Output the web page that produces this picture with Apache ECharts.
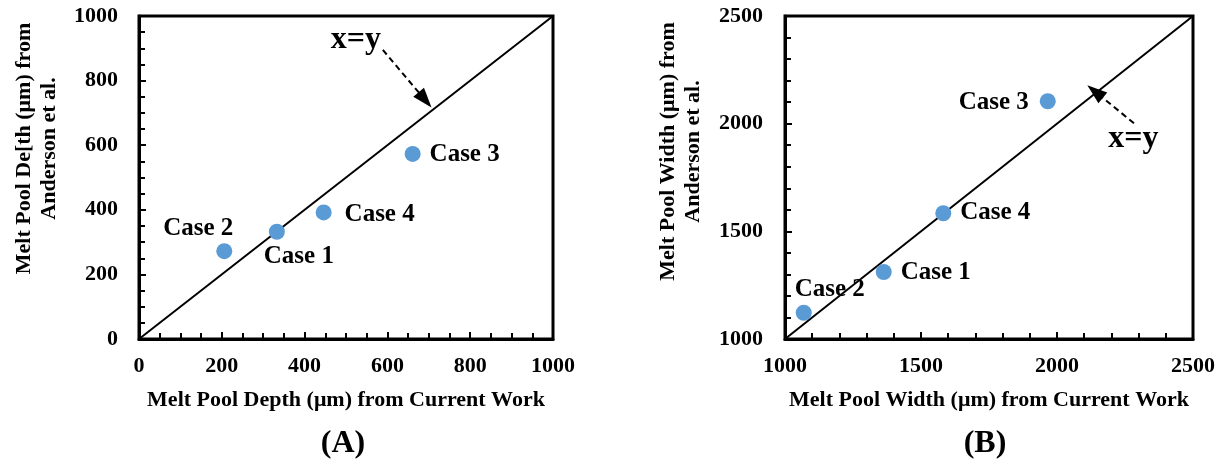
<!DOCTYPE html>
<html>
<head>
<meta charset="utf-8">
<script src="https://cdn.jsdelivr.net/npm/echarts@6/dist/echarts.min.js"></script>
<style>html,body{margin:0;padding:0;background:#fff}#c{width:1224px;height:463px}</style>
</head>
<body>
<div id="c"></div>
<script>
// Data
const caseNames = ['Case 1', 'Case 2', 'Case 3', 'Case 4'];
const depthCurrent = [333, 206, 661, 446];
const depthAnderson = [332, 272, 573, 392];
const widthCurrent = [1363, 1069, 1966, 1582];
const widthAnderson = [1311, 1122, 2104, 1584];
const depthTicks = [0, 200, 400, 600, 800, 1000];
const widthTicks = [1000, 1500, 2000, 2500];
const depthArrow = [[589, 895], [691, 740]];
const widthArrow = [[2283, 2002], [2140, 2149]];
const depthArrowText = [524, 926];
const widthArrowText = [2281, 1928];

const FONT = 'Liberation Serif';
const depthLabelOffsets = [[22, 25], [-26, -23], [52, 1], [56, 2]];
const widthLabelOffsets = [[52, 1], [26, -23], [-54, 1], [52, -1]];

function pts(xs, ys, offs) {
  return xs.map((x, i) => ({
    value: [x, ys[i]], name: caseNames[i],
    label: { offset: offs[i] }
  }));
}

function axisCommon(min, max, interval, split) {
  return {
    type: 'value', min: min, max: max, interval: interval,
    axisLine: { show: true, lineStyle: { color: '#000', width: 3 } },
    axisTick: { show: true, inside: true, length: 7, lineStyle: { color: '#000', width: 2 } },
    minorTick: { show: true, splitNumber: split, length: 6, lineStyle: { color: '#000', width: 2 } },
    splitLine: { show: false },
    nameTextStyle: { color: '#000', fontFamily: FONT, fontWeight: 'bold', fontSize: 22, lineHeight: 24 }
  };
}
const tickLabel = (margin) => ({
  color: '#000', fontFamily: FONT, fontWeight: 'bold', fontSize: 22, margin: margin,
  formatter: (v) => String(v)
});

const chart = echarts.init(document.getElementById('c'));
const labelStyle = {
  show: true, position: 'inside', formatter: '{b}', color: '#000',
  fontFamily: FONT, fontWeight: 'bold', fontSize: 25, align: 'center', verticalAlign: 'middle'
};
const arrowText = (pos, gi) => ({
  type: 'scatter', xAxisIndex: gi, yAxisIndex: gi, symbolSize: 0, itemStyle: { color: '#000', opacity: 1 },
  data: [{ value: pos, name: 'x=y' }], silent: true,
  label: { show: true, position: 'inside', formatter: '{b}', color: '#000', opacity: 1, fontFamily: FONT, fontWeight: 'bold', fontSize: 32 }
});
const arrowLine = (seg, gi) => ({
  type: 'line', xAxisIndex: gi, yAxisIndex: gi, data: [], silent: true,
  markLine: {
    silent: true, symbol: ['none', 'triangle'], symbolSize: [14, 20],
    label: { show: false },
    lineStyle: { color: '#000', width: 2, type: [6, 4], opacity: 1 },
    data: [[{ coord: seg[0] }, { coord: seg[1] }]]
  }
});

chart.setOption({
  animation: false,
  grid: [
    { left: 139, top: 16, width: 414, height: 323, show: true, borderColor: '#000', borderWidth: 3 },
    { left: 785, top: 16, width: 408, height: 323, show: true, borderColor: '#000', borderWidth: 3 }
  ],
  xAxis: [
    Object.assign(axisCommon(depthTicks[0], depthTicks[depthTicks.length - 1], 200, 4), {
      gridIndex: 0, name: 'Melt Pool Depth (μm) from Current Work', nameLocation: 'middle', nameGap: 49,
      axisLabel: tickLabel(16)
    }),
    Object.assign(axisCommon(widthTicks[0], widthTicks[widthTicks.length - 1], 500, 5), {
      gridIndex: 1, name: 'Melt Pool Width (μm) from Current Work', nameLocation: 'middle', nameGap: 49,
      axisLabel: tickLabel(16)
    })
  ],
  yAxis: [
    Object.assign(axisCommon(depthTicks[0], depthTicks[depthTicks.length - 1], 200, 4), {
      gridIndex: 0, name: 'Melt Pool De[th (μm) from\nAnderson et al.', nameLocation: 'middle', nameGap: 77, nameRotate: 90,
      nameTextStyle: { color: '#000', fontFamily: FONT, fontWeight: 'bold', fontSize: 22, lineHeight: 25, padding: [0, 0, 0, 58] },
      axisLabel: tickLabel(21)
    }),
    Object.assign(axisCommon(widthTicks[0], widthTicks[widthTicks.length - 1], 500, 5), {
      gridIndex: 1, name: 'Melt Pool Width (μm) from\nAnderson et al.', nameLocation: 'middle', nameGap: 79, nameRotate: 90,
      nameTextStyle: { color: '#000', fontFamily: FONT, fontWeight: 'bold', fontSize: 22, lineHeight: 25, padding: [0, 0, 0, 52] },
      axisLabel: tickLabel(22)
    })
  ],
  graphic: [
    { type: 'text', x: 343, y: 444, style: { text: '(A)', fill: '#000', font: 'bold 32px "Liberation Serif"', align: 'center', verticalAlign: 'middle' } },
    { type: 'text', x: 985, y: 444, style: { text: '(B)', fill: '#000', font: 'bold 32px "Liberation Serif"', align: 'center', verticalAlign: 'middle' } }
  ],
  series: [
    { type: 'line', xAxisIndex: 0, yAxisIndex: 0, data: [[depthTicks[0], depthTicks[0]], [depthTicks[5], depthTicks[5]]],
      showSymbol: false, symbol: 'none', lineStyle: { color: '#000', width: 2 }, silent: true, z: 1 },
    { type: 'line', xAxisIndex: 1, yAxisIndex: 1, data: [[widthTicks[0], widthTicks[0]], [widthTicks[3], widthTicks[3]]],
      showSymbol: false, symbol: 'none', lineStyle: { color: '#000', width: 2 }, silent: true, z: 1 },
    { type: 'scatter', xAxisIndex: 0, yAxisIndex: 0, symbolSize: 16, itemStyle: { color: '#5B9BD5', opacity: 1 },
      data: pts(depthCurrent, depthAnderson, depthLabelOffsets), label: labelStyle, z: 3 },
    { type: 'scatter', xAxisIndex: 1, yAxisIndex: 1, symbolSize: 16, itemStyle: { color: '#5B9BD5', opacity: 1 },
      data: pts(widthCurrent, widthAnderson, widthLabelOffsets), label: labelStyle, z: 3 },
    arrowLine(depthArrow, 0),
    arrowLine(widthArrow, 1),
    arrowText(depthArrowText, 0),
    arrowText(widthArrowText, 1)
  ]
});
</script>
</body>
</html>
